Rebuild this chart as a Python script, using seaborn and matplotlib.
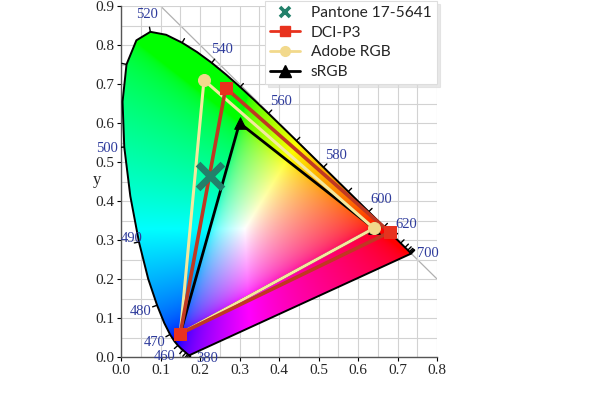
import numpy as np
import matplotlib
matplotlib.use("Agg")
import matplotlib.pyplot as plt
import seaborn as sns
from matplotlib.path import Path
from matplotlib.patches import PathPatch
from matplotlib.lines import Line2D

# ---------------- data ----------------
wavelengths = list(range(380, 701, 5))
locus_x = [0.1741, 0.1740, 0.1738, 0.1736, 0.1733, 0.1730, 0.1726, 0.1721, 0.1714, 0.1703,
           0.1689, 0.1669, 0.1644, 0.1611, 0.1566, 0.1510, 0.1440, 0.1355, 0.1241, 0.1096,
           0.0913, 0.0687, 0.0454, 0.0235, 0.0082, 0.0039, 0.0139, 0.0389, 0.0743, 0.1142,
           0.1547, 0.1929, 0.2296, 0.2658, 0.3016, 0.3373, 0.3731, 0.4087, 0.4441, 0.4788,
           0.5125, 0.5448, 0.5752, 0.6029, 0.6270, 0.6482, 0.6658, 0.6801, 0.6915, 0.7006,
           0.7079, 0.7140, 0.7190, 0.7230, 0.7260, 0.7283, 0.7300, 0.7311, 0.7320, 0.7327,
           0.7334, 0.7340, 0.7344, 0.7346, 0.7347]
locus_y = [0.0050, 0.0050, 0.0049, 0.0049, 0.0048, 0.0048, 0.0048, 0.0048, 0.0051, 0.0058,
           0.0069, 0.0086, 0.0109, 0.0138, 0.0177, 0.0227, 0.0297, 0.0399, 0.0578, 0.0868,
           0.1327, 0.2007, 0.2950, 0.4127, 0.5384, 0.6548, 0.7502, 0.8120, 0.8338, 0.8262,
           0.8059, 0.7816, 0.7543, 0.7243, 0.6923, 0.6589, 0.6245, 0.5896, 0.5547, 0.5202,
           0.4866, 0.4544, 0.4242, 0.3965, 0.3725, 0.3514, 0.3340, 0.3197, 0.3083, 0.2993,
           0.2920, 0.2859, 0.2809, 0.2770, 0.2740, 0.2717, 0.2700, 0.2689, 0.2680, 0.2673,
           0.2666, 0.2660, 0.2656, 0.2654, 0.2653]
label_wavelengths = [380, 460, 470, 480, 490, 500, 520, 540, 560, 580, 600, 620, 700]

srgb_x = [0.64, 0.30, 0.15]
srgb_y = [0.33, 0.60, 0.06]
adobe_x = [0.64, 0.21, 0.15]
adobe_y = [0.33, 0.71, 0.06]
dci_x = [0.68, 0.265, 0.15]
dci_y = [0.32, 0.69, 0.06]
pantone_x = [0.225]
pantone_y = [0.465]

legend_labels = ["Pantone 17-5641", "DCI-P3", "Adobe RGB", "sRGB"]
x_ticks = [0.0, 0.1, 0.2, 0.3, 0.4, 0.5, 0.6, 0.7, 0.8]
y_ticks = [0.0, 0.1, 0.2, 0.3, 0.4, 0.5, 0.6, 0.7, 0.8, 0.9]

# ---------------- style ----------------
sns.set_style("white")
plt.rcParams["font.family"] = ["Liberation Serif", "DejaVu Serif"]

c_pantone = "#22806a"
c_dci_m = "#e8321e"
c_dci_l = "#c03822"
c_adobe_m = "#f2d98c"
c_adobe_l = "#f4ea9e"
c_srgb = "#000000"
c_wl = "#2e3b9c"

fig = plt.figure(figsize=(6.0, 3.95), dpi=100)
ax = fig.add_axes([0.2017, 0.0962, 0.5267, 0.8886])

# ---------------- colour fill ----------------
gx = np.linspace(0, 0.8, 641)
gy = np.linspace(0, 0.9, 721)
GX, GY = np.meshgrid(gx, gy)
Yc = np.maximum(GY, 1e-6)
XYZ = np.stack([GX / Yc, np.ones_like(GX), (1 - GX - GY) / Yc], axis=-1)
M = np.array([[3.2406, -1.5372, -0.4986],
              [-0.9689, 1.8758, 0.0415],
              [0.0557, -0.2040, 1.0570]])
rgb = XYZ @ M.T
rgb = np.clip(rgb, 0, None)
rgb = rgb / (rgb.max(axis=-1, keepdims=True) + 1e-12)
rgb = np.where(rgb <= 0.0031308, 12.92 * rgb, 1.055 * np.power(rgb, 1 / 2.4) - 0.055)
rgb = np.clip(rgb, 0, 1)
im = ax.imshow(rgb, origin="lower", extent=[0, 0.8, 0, 0.9], aspect="auto",
               interpolation="bilinear", zorder=1)
verts = np.column_stack([locus_x + [locus_x[0]], locus_y + [locus_y[0]]])
clip = PathPatch(Path(verts), transform=ax.transData, facecolor="none", edgecolor="none")
ax.add_patch(clip)
im.set_clip_path(clip)

# outline
ax.plot(verts[:, 0], verts[:, 1], color="black", lw=1.4, zorder=3)

# x + y = 1 line
ax.plot([0.1, 0.8], [0.9, 0.2], color="#b0b0b0", lw=0.9, zorder=0.5)

# wavelength ticks & labels
lx = np.array(locus_x)
ly = np.array(locus_y)
tx = np.gradient(lx)
ty = np.gradient(ly)
nrm = np.hypot(tx, ty) + 1e-12
nx, ny = -ty / nrm, tx / nrm
for i, w in enumerate(wavelengths):
    if w % 10 == 0:
        ax.plot([lx[i], lx[i] + 0.012 * nx[i]], [ly[i], ly[i] + 0.012 * ny[i]],
                color="black", lw=1.0, zorder=3)
overrides = {380: (0.044, -0.008), 700: (0.042, 0.0), 490: (-0.018, 0.008)}
for w in label_wavelengths:
    i = wavelengths.index(w)
    if w in overrides:
        px, py = lx[i] + overrides[w][0], ly[i] + overrides[w][1]
    else:
        px, py = lx[i] + 0.044 * nx[i], ly[i] + 0.044 * ny[i]
    ax.text(px, py, str(w), color=c_wl, fontsize=10.5, ha="center", va="center", zorder=4)

# ---------------- gamut triangles ----------------
def tri(xv, yv, color, lw, z):
    sns.lineplot(x=xv + [xv[0]], y=yv + [yv[0]], sort=False, estimator=None,
                 color=color, lw=lw, ax=ax, legend=False, zorder=z)

tri(srgb_x, srgb_y, c_srgb, 2.0, 5)
tri(adobe_x, adobe_y, c_adobe_l, 2.2, 6)
tri(dci_x, dci_y, c_dci_l, 2.6, 7)

sns.scatterplot(x=srgb_x, y=srgb_y, marker="^", s=70, color=c_srgb, edgecolor=c_srgb,
                ax=ax, zorder=8, legend=False)
sns.scatterplot(x=adobe_x, y=adobe_y, marker="o", s=75, color=c_adobe_m, edgecolor=c_adobe_m,
                ax=ax, zorder=9, legend=False)
sns.scatterplot(x=dci_x, y=dci_y, marker="s", s=85, color=c_dci_m, edgecolor=c_dci_m,
                ax=ax, zorder=10, legend=False)
sns.scatterplot(x=pantone_x, y=pantone_y, marker="x", s=320, color=c_pantone,
                linewidth=4.8, ax=ax, zorder=11, legend=False)

# ---------------- axes ----------------
ax.set_xlim(0, 0.8)
ax.set_ylim(0, 0.9)
ax.set_xticks(x_ticks)
ax.set_yticks(y_ticks)
ax.set_xticklabels([f"{v:.1f}" for v in x_ticks], fontsize=11)
ax.set_yticklabels([f"{v:.1f}" for v in y_ticks], fontsize=11)
ax.set_xticks(np.arange(0.05, 0.8, 0.1), minor=True)
ax.set_yticks(np.arange(0.05, 0.9, 0.1), minor=True)
ax.grid(True, which="both", color="#d2d2d2", lw=0.8, zorder=0)
ax.set_axisbelow(True)
ax.tick_params(axis="both", which="major", direction="out", length=3, width=0.8,
               color="black", pad=2, left=True, bottom=True)
ax.tick_params(axis="both", which="minor", length=0)
for s in ["top", "right"]:
    ax.spines[s].set_visible(False)
for s in ["left", "bottom"]:
    ax.spines[s].set_color("#555555")
    ax.spines[s].set_linewidth(1.0)
ax.set_ylabel("y", fontsize=12, rotation=0, va="center", ha="center")
ax.yaxis.set_label_coords(-0.076, 0.505)

handles = [
    Line2D([], [], marker="x", color=c_pantone, ls="none", ms=7, mew=2.6),
    Line2D([], [], marker="s", color=c_dci_m, ls="-", lw=2, ms=7),
    Line2D([], [], marker="o", color=c_adobe_m, ls="-", lw=2, ms=7),
    Line2D([], [], marker="^", color=c_srgb, ls="-", lw=2, ms=8),
]
leg = ax.legend(handles, legend_labels, loc="upper right", bbox_to_anchor=(1.0, 1.015),
                borderaxespad=0.0, frameon=True, fancybox=False, handlelength=1.9,
                handletextpad=0.7, labelspacing=0.36, borderpad=0.35,
                prop={"family": ["Lato", "DejaVu Sans"], "size": 11.2},
                shadow={"color": "0.85", "alpha": 0.6})
leg.get_frame().set_edgecolor("#dddddd")
leg.get_frame().set_linewidth(0.8)
leg.set_zorder(20)

fig.savefig("out.png", dpi=100)
